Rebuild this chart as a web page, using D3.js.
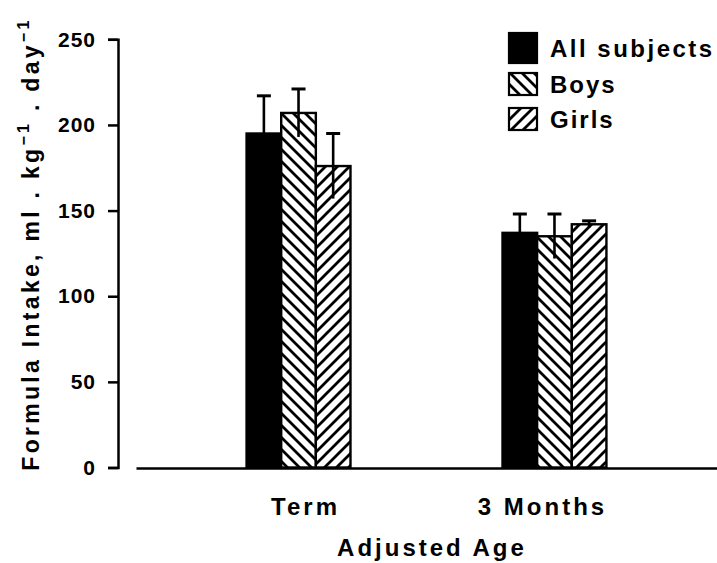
<!DOCTYPE html>
<html lang="en">
<head>
  <meta charset="UTF-8" />
  <title>Formula intake by adjusted age</title>
  <style>
    body { margin: 0; background: #fff; }
    svg { display: block; font-family: "Liberation Sans", Arial, sans-serif; font-weight: bold; }
  </style>
</head>
<body>
  <div id="chart"></div>

  <script src="https://cdn.jsdelivr.net/npm/d3@7"></script>
  <script>
    // data
    const groups = ["Term", "3 Months"];
    const series = ["All subjects", "Boys", "Girls"];
    const allMean = [195, 137];
    const boysMean = [207, 135];
    const girlsMean = [176, 142];
    const allSd = [22, 11];
    const boysSd = [14, 13];
    const girlsSd = [19, 2];
    const yTicks = [0, 50, 100, 150, 200, 250];
    const labelShift = [7, -12]; // group labels sit a bit off centre in the original

    const width = 717, height = 563;
    const fills = ["#000", "url(#hatch-boys)", "url(#hatch-girls)"];

    const rows = [];
    groups.forEach((g, i) => {
      rows.push({ group: g, key: series[0], mean: allMean[i], sd: allSd[i] });
      rows.push({ group: g, key: series[1], mean: boysMean[i], sd: boysSd[i] });
      rows.push({ group: g, key: series[2], mean: girlsMean[i], sd: girlsSd[i] });
    });

    const svg = d3.select("#chart").append("svg")
      .attr("width", width)
      .attr("height", height);

    svg.append("rect").attr("width", width).attr("height", height).attr("fill", "#fff");

    // hatch patterns
    const defs = svg.append("defs");
    const hatch = (id, d) => {
      const p = defs.append("pattern")
        .attr("id", id)
        .attr("patternUnits", "userSpaceOnUse")
        .attr("width", 12).attr("height", 12);
      p.append("rect").attr("width", 12).attr("height", 12).attr("fill", "#fff");
      p.append("path").attr("d", d).attr("stroke", "#000").attr("stroke-width", 2.8);
    };
    hatch("hatch-boys", "M0,0L12,12M-3,9L3,15M9,-3L15,3");
    hatch("hatch-girls", "M0,12L12,0M-3,3L3,-3M9,15L15,9");

    const y = d3.scaleLinear().domain([0, 250]).range([467.5, 39.3]);

    const x0 = d3.scaleBand()
      .domain(groups)
      .range([136, 717])
      .paddingInner(0.594)
      .paddingOuter(0.432);

    const x1 = d3.scaleBand()
      .domain(series)
      .range([0, x0.bandwidth()]);

    // y axis, bracket shaped via outer ticks
    const yAxis = svg.append("g")
      .attr("transform", "translate(118,0)")
      .call(d3.axisLeft(y).tickValues(yTicks).tickSize(10).tickSizeOuter(10).tickPadding(12));
    yAxis.selectAll("path, line").attr("stroke", "#000").attr("stroke-width", 2.5);
    yAxis.selectAll("text")
      .attr("font-size", 21)
      .attr("letter-spacing", 1)
      .attr("fill", "#000")
      .attr("font-family", "Liberation Sans, Arial, sans-serif")
      .attr("font-weight", "bold");

    // bars
    const bars = svg.append("g");
    bars.selectAll("rect")
      .data(rows)
      .join("rect")
      .attr("x", d => x0(d.group) + x1(d.key))
      .attr("y", d => y(d.mean))
      .attr("width", x1.bandwidth())
      .attr("height", d => y(0) - y(d.mean))
      .attr("fill", (d, i) => fills[i % 3])
      .attr("stroke", "#000")
      .attr("stroke-width", 2.4);

    // error bars
    const err = svg.append("g").attr("stroke", "#000").attr("stroke-width", 2.6);
    rows.forEach(d => {
      const cx = x0(d.group) + x1(d.key) + x1.bandwidth() / 2;
      err.append("line")
        .attr("x1", cx).attr("x2", cx)
        .attr("y1", y(d.mean - d.sd)).attr("y2", y(d.mean + d.sd));
      err.append("line")
        .attr("x1", cx - 7).attr("x2", cx + 7)
        .attr("y1", y(d.mean + d.sd)).attr("y2", y(d.mean + d.sd))
        .attr("stroke-width", 3);
    });

    // x axis
    const xAxis = svg.append("g")
      .attr("transform", `translate(0,${y(0) + 0.5})`)
      .call(d3.axisBottom(x0).tickSize(0).tickSizeOuter(0).tickPadding(30));
    xAxis.select(".domain").attr("stroke", "#000").attr("stroke-width", 2.5);
    xAxis.selectAll("text")
      .attr("font-size", 24)
      .attr("letter-spacing", 3)
      .attr("fill", "#000")
      .attr("font-family", "Liberation Sans, Arial, sans-serif")
      .attr("font-weight", "bold")
      .attr("dx", (d, i) => labelShift[i]);

    svg.append("text")
      .attr("x", 432)
      .attr("y", 556)
      .attr("text-anchor", "middle")
      .attr("font-size", 24)
      .attr("letter-spacing", 3)
      .text("Adjusted Age");

    // y title with superscripts
    const yt = svg.append("text")
      .attr("transform", "translate(39,244) rotate(-90)")
      .attr("text-anchor", "middle")
      .attr("font-size", 23)
      .attr("letter-spacing", 3.3);
    yt.append("tspan").text("Formula Intake, ml . kg");
    yt.append("tspan").attr("font-size", 16).attr("dy", -10).text("\u22121");
    yt.append("tspan").attr("dy", 10).text(" . day");
    yt.append("tspan").attr("font-size", 16).attr("dy", -10).text("\u22121");

    // legend
    const legend = svg.append("g").attr("transform", "translate(509,0)");
    const legendY = [48, 84, 119];
    series.forEach((s, i) => {
      const h = i === 0 ? 30 : 22;
      legend.append("rect")
        .attr("x", 0).attr("y", legendY[i] - h / 2)
        .attr("width", 28).attr("height", h)
        .attr("fill", fills[i])
        .attr("stroke", "#000")
        .attr("stroke-width", 2.2);
      legend.append("text")
        .attr("x", 41)
        .attr("y", legendY[i] + 9)
        .attr("font-size", 24)
        .attr("letter-spacing", i === 0 ? 2.5 : 2)
        .text(s);
    });
  </script>
</body>
</html>
